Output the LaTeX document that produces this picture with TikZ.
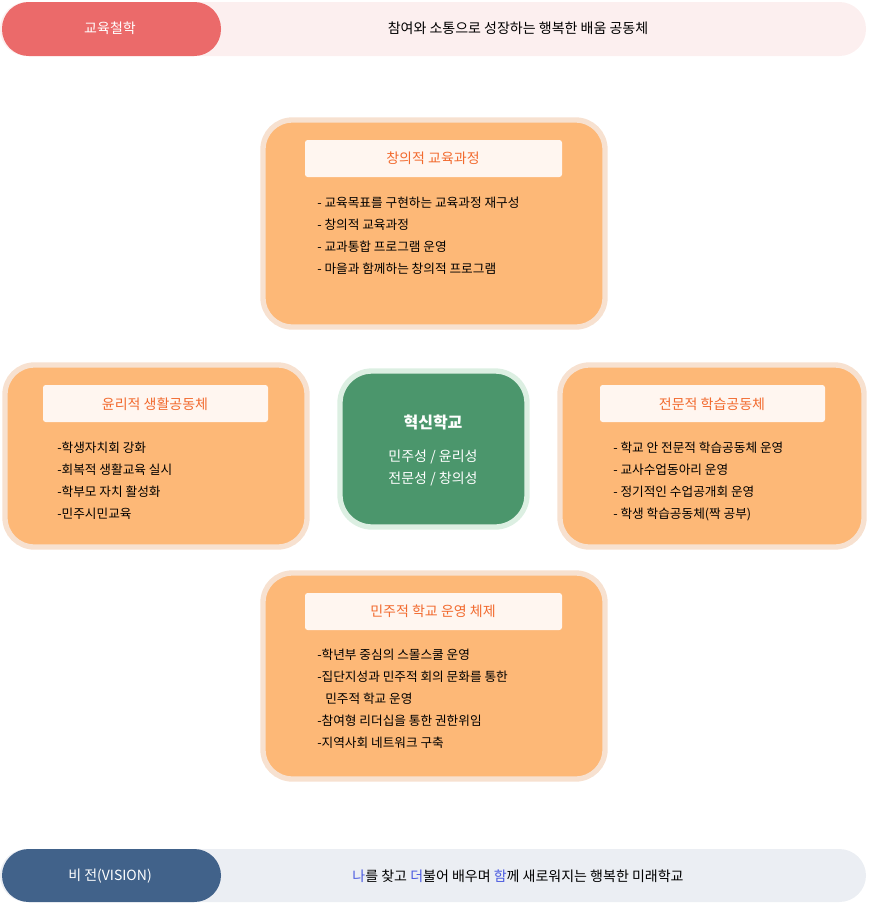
\documentclass[tikz,border=0pt]{standalone}
\usepackage{fontspec}
\setmainfont{Noto Sans CJK KR}
\definecolor{barred}{HTML}{EB6A6A}
\definecolor{barpink}{HTML}{FCEFEF}
\definecolor{barblue}{HTML}{41628A}
\definecolor{bargray}{HTML}{EBEEF3}
\definecolor{boxfill}{HTML}{FDB877}
\definecolor{boxrim}{HTML}{F7E1D0}
\definecolor{titlefill}{HTML}{FFF6F0}
\definecolor{titletext}{HTML}{F26A2E}
\definecolor{hubfill}{HTML}{4B966C}
\definecolor{hubrim}{HTML}{DCEFE2}
\definecolor{mark}{HTML}{4A5AE0}
\tikzset{
  area/.style={draw=boxrim,line width=4pt,fill=boxfill,rounded corners=22pt},
  hub/.style={draw=hubrim,line width=4pt,fill=hubfill,rounded corners=24pt},
  titlebox/.style={fill=titlefill,rounded corners=2pt},
  titletxt/.style={text=titletext,font=\fontsize{10.5}{12}\selectfont},
  item/.style={anchor=west,font=\fontsize{9.5}{11}\selectfont,inner sep=0pt},
  bartxt/.style={font=\fontsize{10.5}{12}\selectfont}
}
\begin{document}
\begin{tikzpicture}[x=0.75pt,y=-0.75pt]
  \useasboundingbox (0,0) rectangle (870,904);
  % philosophy bar
  \fill[barpink,rounded corners=20pt] (0,2) rectangle (866,56);
  \fill[barred,rounded corners=20pt] (2,2) rectangle (221,56);
  \node[bartxt,text=white] (phil) at (110,28) {교육철학};
  \node[bartxt] (philtxt) at (518,28) {참여와 소통으로 성장하는 행복한 배움 공동체};
  % vision bar
  \fill[bargray,rounded corners=20pt] (0,849) rectangle (866,902);
  \fill[barblue,rounded corners=20pt] (2,849) rectangle (221,902);
  \node[bartxt,text=white] (vis) at (110,876) {비 전(VISION)};
  \node[bartxt] (vistxt) at (518,876) {\textcolor{mark}{나}를 찾고 \textcolor{mark}{더}불어 배우며 \textcolor{mark}{함}께 새로워지는 행복한 미래학교};
  % top: curriculum
  \draw[area] (263,120) rectangle (605,327);
  \fill[titlebox] (305,140) rectangle (562,177);
  \node[titletxt] (cur) at (433,158) {창의적 교육과정};
  \foreach \t [count=\i] in {- 교육목표를 구현하는 교육과정 재구성, - 창의적 교육과정, - 교과통합 프로그램 운영, - 마을과 함께하는 창의적 프로그램}
    \node[item] (cur\i) at (317,181+22*\i) {\t};
  % left: ethics
  \draw[area] (5,365) rectangle (307,547);
  \fill[titlebox] (43,385) rectangle (268,422);
  \node[titletxt] (eth) at (155,404) {윤리적 생활공동체};
  \foreach \t [count=\i] in {-학생자치회 강화, -회복적 생활교육 실시, -학부모 자치 활성화, -민주시민교육}
    \node[item] (eth\i) at (57,426+22*\i) {\t};
  % right: learning
  \draw[area] (560,365) rectangle (864,547);
  \fill[titlebox] (600,385) rectangle (825,422);
  \node[titletxt] (lrn) at (712,404) {전문적 학습공동체};
  \foreach \t [count=\i] in {- 학교 안 전문적 학습공동체 운영, - 교사수업동아리 운영, - 정기적인 수업공개회 운영, - 학생 학습공동체(짝 공부)}
    \node[item] (lrn\i) at (613,426+22*\i) {\t};
  % bottom: governance
  \draw[area] (263,573) rectangle (605,779);
  \fill[titlebox] (305,593) rectangle (562,630);
  \node[titletxt] (gov) at (433,611) {민주적 학교 운영 체제};
  \foreach \t/\dx [count=\i] in {-학년부 중심의 스몰스쿨 운영/0, -집단지성과 민주적 회의 문화를 통한/0, 민주적 학교 운영/8, -참여형 리더십을 통한 권한위임/0, -지역사회 네트워크 구축/0}
    \node[item] (gov\i) at (317+\dx,633+22*\i) {\t};
  % centre
  \draw[hub] (340,371) rectangle (527,527);
  \node[text=white,font=\bfseries\fontsize{12}{14}\selectfont] (hub) at (433,422) {혁신학교};
  \node[text=white,align=center,font=\fontsize{10.5}{17}\selectfont] (hubtxt) at (433,468) {민주성 / 윤리성\\전문성 / 창의성};
\end{tikzpicture}
\end{document}
